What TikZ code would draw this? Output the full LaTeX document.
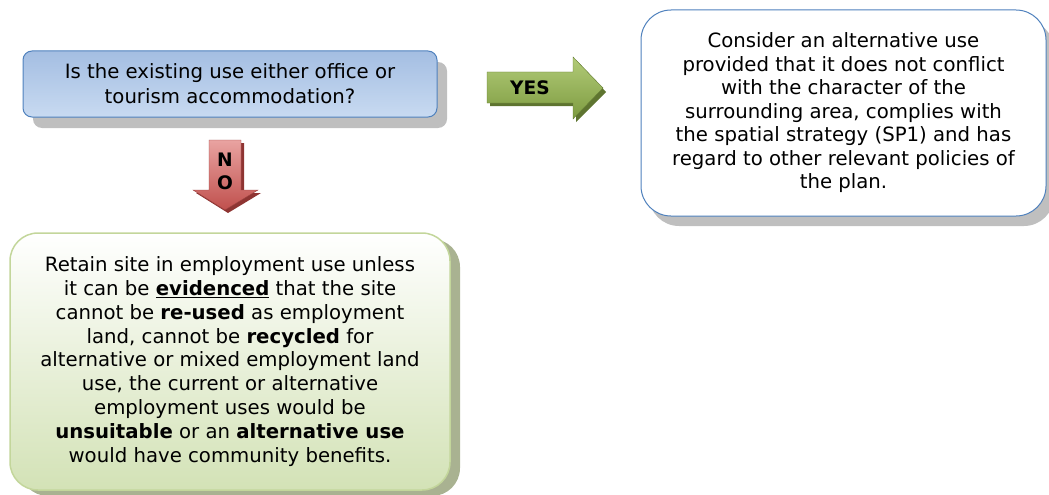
\documentclass[tikz,border=0pt]{standalone}
\usepackage{fontspec}
\setmainfont{DejaVu Sans}
\usetikzlibrary{shadows}

\definecolor{boxblue}{HTML}{4F81BD}
\definecolor{qtop}{HTML}{A4BEE2}
\definecolor{qbot}{HTML}{C8DAF1}
\definecolor{gline}{HTML}{C3D69B}
\definecolor{gbot}{HTML}{D3E2B6}
\definecolor{gshadow}{HTML}{A9B291}
\definecolor{yestop}{HTML}{B2CB78}
\definecolor{yesbot}{HTML}{7D9B40}
\definecolor{yesshadow}{HTML}{5E7430}
\definecolor{notop}{HTML}{E9A3A1}
\definecolor{nobot}{HTML}{C0504D}
\definecolor{noshadow}{HTML}{8E3432}

\tikzset{
  qbox/.style={draw=boxblue, line width=1pt, rounded corners=9pt,
    top color=qtop, bottom color=qbot, align=center,
    drop shadow={shadow xshift=10pt, shadow yshift=-11pt, opacity=1, fill=black!25}},
  retainbox/.style={draw=gline, line width=1.5pt, rounded corners=28pt,
    top color=white, bottom color=gbot, align=center,
    drop shadow={shadow xshift=10pt, shadow yshift=-6pt, opacity=1, fill=gshadow}},
  altbox/.style={draw=boxblue, line width=1pt, rounded corners=30pt,
    fill=white, align=center,
    drop shadow={shadow xshift=8pt, shadow yshift=-10pt, opacity=1, fill=black!25}},
  yesarrow/.style={top color=yestop, bottom color=yesbot, draw=yesbot!80!black, line width=.4pt},
  noarrow/.style={top color=notop, bottom color=nobot, draw=nobot!80!black, line width=.4pt},
}

\begin{document}
\begin{tikzpicture}[x=1pt, y=1pt]
  \useasboundingbox (0,0) rectangle (1049,-495);

  % question
  \node[qbox, minimum width=414pt, minimum height=66pt, font=\fontsize{19.7}{25}\selectfont]
    (question) at (230,-84) {Is the existing use either office or\\tourism accommodation?};

  % yes arrow
  \fill[yesshadow] (490,-75) -- (576,-75) -- (576,-60) -- (606,-92) -- (576,-122) -- (576,-106) -- (490,-106) -- cycle;
  \path[yesarrow] (487,-72) -- (573,-72) -- (573,-57) -- (603,-88) -- (573,-119) -- (573,-103) -- (487,-103) -- cycle;
  \node[font=\fontsize{18.6}{20}\selectfont\bfseries] (yes) at (530,-88) {YES};

  % no arrow
  \fill[noshadow] (212,-143) -- (244,-143) -- (244,-193) -- (261,-193) -- (228,-213) -- (196,-193) -- (212,-193) -- cycle;
  \path[noarrow] (209,-140) -- (241,-140) -- (241,-190) -- (258,-190) -- (225,-210) -- (193,-190) -- (209,-190) -- cycle;
  \node[font=\fontsize{18.6}{23}\selectfont\bfseries, align=center] (no) at (225,-171) {N\\O};

  % alternative use
  \node[altbox, minimum width=405pt, minimum height=206pt, font=\fontsize{19.7}{23.5}\selectfont]
    (alternative) at (843.5,-113) {Consider an alternative use\\
    provided that it does not conflict\\
    with the character of the\\
    surrounding area, complies with\\
    the spatial strategy (SP1) and has\\
    regard to other relevant policies of\\
    the plan.};

  % retain
  \node[retainbox, minimum width=440pt, minimum height=257pt, font=\fontsize{19.7}{23.8}\selectfont]
    (retain) at (230,-361.5) {Retain site in employment use unless\\
    it can be \underline{\textbf{evidenced}} that the site\\
    cannot be \textbf{re-used} as employment\\
    land, cannot be \textbf{recycled} for\\
    alternative or mixed employment land\\
    use, the current or alternative\\
    employment uses would be\\
    \textbf{unsuitable} or an \textbf{alternative use}\\
    would have community benefits.};
\end{tikzpicture}
\end{document}
